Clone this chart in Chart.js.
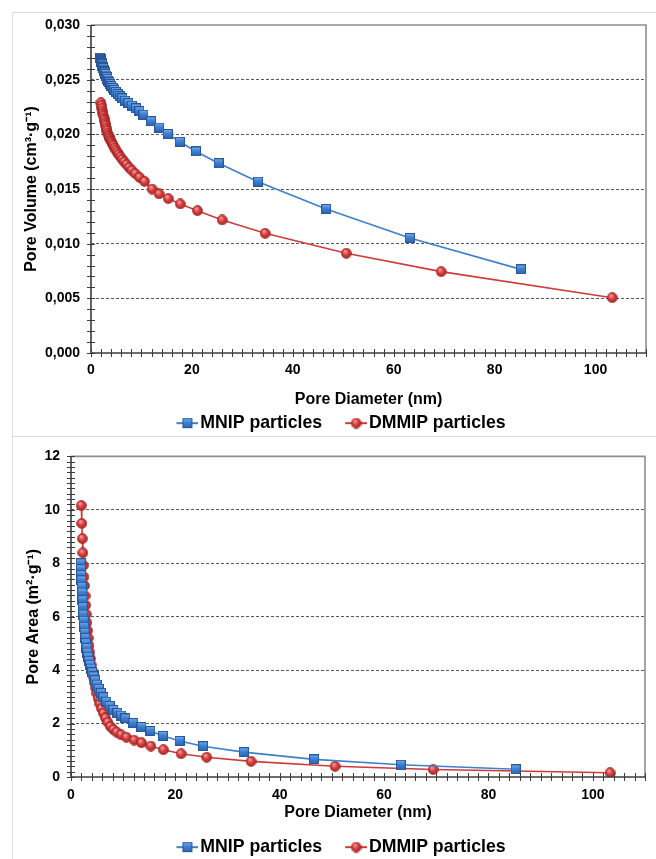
<!DOCTYPE html>
<html>
<head>
<meta charset="utf-8">
<script src="https://cdn.jsdelivr.net/npm/chart.js@4.4.1/dist/chart.umd.min.js"></script>
<style>
  html, body { margin: 0; padding: 0; background: #fff; }
  body { width: 656px; height: 859px; overflow: hidden; position: relative; }
  canvas { position: absolute; left: 0; }
  #top { top: 0; }
  #bottom { top: 437px; }
  .frame { position: absolute; border-color: #dcdcdc; border-style: solid; border-width: 0; }
</style>
</head>
<body>
<div class="frame" style="left:12px;top:12px;width:644px;height:847px;border-left-width:1px;border-top-width:1px;"></div>
<div class="frame" style="left:12px;top:436px;width:644px;height:0;border-top-width:1px;"></div>
<canvas id="top" width="663" height="442"></canvas>
<canvas id="bottom" width="663" height="429"></canvas>
<script>
// MNIP particles (blue squares)
var mnipDiameter = [1.85, 1.9, 1.95, 2.0, 2.06, 2.12, 2.19, 2.26, 2.34, 2.42, 2.51, 2.61, 2.72, 2.84, 2.97,
  3.11, 3.26, 3.43, 3.62, 3.83, 4.06, 4.32, 4.61, 4.94, 5.31, 5.73, 6.21, 6.76, 7.4, 8.1, 8.9, 9.6, 10.4,
  11.9, 13.5, 15.2, 17.6, 20.8, 25.3, 33.1, 46.6, 63.2, 85.2];
var mnipVolume = [0.02700, 0.02690, 0.02680, 0.02671, 0.02660, 0.02650, 0.02639, 0.02628, 0.02616, 0.02604,
  0.02592, 0.02579, 0.02566, 0.02552, 0.02538, 0.02523, 0.02508, 0.02492, 0.02476, 0.02459, 0.02442, 0.02424,
  0.02406, 0.02387, 0.02368, 0.02348, 0.02328, 0.02307, 0.02285, 0.02262, 0.02238, 0.02212, 0.02180, 0.02120,
  0.02062, 0.02003, 0.01932, 0.01843, 0.01736, 0.01567, 0.01318, 0.01052, 0.00765];
var mnipArea = [8.00, 7.78, 7.56, 7.36, 7.12, 6.90, 6.62, 6.36, 6.08, 5.85, 5.62, 5.40, 5.20, 5.01, 4.83,
  4.66, 4.50, 4.35, 4.20, 4.06, 3.92, 3.77, 3.62, 3.46, 3.30, 3.14, 2.98, 2.82, 2.66, 2.51, 2.40, 2.30, 2.19,
  2.02, 1.87, 1.72, 1.54, 1.35, 1.15, 0.93, 0.66, 0.46, 0.29];

// DMMIP particles (red circles)
var dmmipDiameter = [1.97, 2.07, 2.17, 2.27, 2.37, 2.47, 2.58, 2.69, 2.8, 2.92, 3.04, 3.17, 3.3, 3.44, 3.58,
  3.73, 3.89, 4.05, 4.25, 4.46, 4.7, 4.95, 5.22, 5.52, 5.85, 6.2, 6.6, 7.05, 7.55, 8.1, 8.75, 9.6, 10.6,
  12.1, 13.5, 15.3, 17.7, 21.1, 26.0, 34.5, 50.6, 69.4, 103.3];
var dmmipVolume = [0.02290, 0.02263, 0.02238, 0.02213, 0.02190, 0.02168, 0.02144, 0.02122, 0.02100, 0.02078,
  0.02056, 0.02033, 0.02011, 0.01992, 0.01977, 0.01962, 0.01946, 0.01931, 0.01913, 0.01895, 0.01875, 0.01856,
  0.01836, 0.01815, 0.01793, 0.01771, 0.01748, 0.01723, 0.01697, 0.01671, 0.01642, 0.01607, 0.01570, 0.01500,
  0.01455, 0.01412, 0.01363, 0.01302, 0.01217, 0.01095, 0.00912, 0.00744, 0.00506];
var dmmipArea = [10.16, 9.49, 8.92, 8.39, 7.92, 7.49, 7.16, 6.78, 6.43, 6.09, 5.78, 5.48, 5.20, 4.92, 4.67,
  4.43, 4.19, 3.98, 3.76, 3.54, 3.33, 3.13, 2.94, 2.74, 2.56, 2.39, 2.21, 2.05, 1.89, 1.78, 1.68, 1.58, 1.49,
  1.38, 1.28, 1.16, 1.02, 0.87, 0.74, 0.585, 0.40, 0.28, 0.16];

var seriesNames = ["MNIP particles", "DMMIP particles"];

Chart.defaults.font.family = "'Liberation Sans', Arial, Helvetica, sans-serif";
Chart.defaults.color = "#000";

// glossy markers
function squareMarker(size) {
  var c = document.createElement("canvas");
  c.width = size; c.height = size;
  var g = c.getContext("2d");
  var gr = g.createLinearGradient(0, 0, 0, size);
  gr.addColorStop(0, "#7fb2ec");
  gr.addColorStop(0.45, "#3d80d4");
  gr.addColorStop(1, "#2a63ad");
  g.fillStyle = gr;
  g.fillRect(0.5, 0.5, size - 1, size - 1);
  g.strokeStyle = "#28579a";
  g.lineWidth = 1;
  g.strokeRect(0.5, 0.5, size - 1, size - 1);
  return c;
}
function roundMarker(size) {
  var c = document.createElement("canvas");
  c.width = size; c.height = size;
  var g = c.getContext("2d");
  var r = size / 2;
  var gr = g.createRadialGradient(r * 0.75, r * 0.6, 0.5, r, r, r);
  gr.addColorStop(0, "#f59a9a");
  gr.addColorStop(0.5, "#d63c3c");
  gr.addColorStop(1, "#a52424");
  g.fillStyle = gr;
  g.beginPath();
  g.arc(r, r, r - 0.6, 0, Math.PI * 2);
  g.fill();
  g.strokeStyle = "#9b2222";
  g.lineWidth = 0.8;
  g.stroke();
  return c;
}
function legendMarker(marker, color) {
  var c = document.createElement("canvas");
  c.width = 48; c.height = 18;
  var g = c.getContext("2d");
  g.strokeStyle = color;
  g.lineWidth = 2;
  g.beginPath();
  g.moveTo(26, 9);
  g.lineTo(48, 9);
  g.stroke();
  g.drawImage(marker, 37 - marker.width / 2, 9 - marker.height / 2);
  return c;
}

var blueSquare = squareMarker(10);
var redDot = roundMarker(11);
var blueColor = "#3f7fcc";
var redColor = "#cf3b3b";
var legendIcons = [legendMarker(blueSquare, blueColor), legendMarker(redDot, redColor)];

function points(xs, ys) {
  return xs.map(function (x, i) { return {x: x, y: ys[i]}; });
}

// crossing tick marks, axis lines and the top/right frame
var frameTicks = {
  id: "frameTicks",
  afterDraw: function (chart, args, opts) {
    var ctx = chart.ctx, a = chart.chartArea;
    var x = chart.scales.x, y = chart.scales.y;
    ctx.save();
    ctx.strokeStyle = "#8e8e8e";
    ctx.lineWidth = 1.6;
    ctx.beginPath();
    ctx.moveTo(a.left, a.top);
    ctx.lineTo(a.right, a.top);
    ctx.lineTo(a.right, a.bottom);
    ctx.stroke();

    ctx.strokeStyle = "#3c3c3c";
    ctx.lineWidth = 1;
    ctx.beginPath();
    var nx = Math.round((x.max - x.min) / opts.xMinor);
    for (var i = 0; i <= nx; i++) {
      var px = Math.round(x.getPixelForValue(x.min + i * opts.xMinor)) + 0.5;
      ctx.moveTo(px, a.bottom - 4);
      ctx.lineTo(px, a.bottom + 4);
    }
    var ny = Math.round((y.max - y.min) / opts.yMinor);
    for (var j = 0; j <= ny; j++) {
      var py = Math.round(y.getPixelForValue(y.min + j * opts.yMinor)) + 0.5;
      ctx.moveTo(a.left - 4, py);
      ctx.lineTo(a.left + 4, py);
    }
    ctx.stroke();

    ctx.lineWidth = 1.6;
    ctx.beginPath();
    ctx.moveTo(a.left, a.top);
    ctx.lineTo(a.left, a.bottom);
    ctx.lineTo(a.right, a.bottom);
    ctx.stroke();
    ctx.restore();
  }
};

function makeChart(id, cfg) {
  var tickFont = {size: 14, weight: "bold"};
  var titleFont = {size: 16, weight: "bold", lineHeight: 1};
  return new Chart(id, {
    type: "line",
    data: {
      datasets: [{
        label: seriesNames[0],
        data: points(mnipDiameter, cfg.mnip),
        borderColor: blueColor,
        borderWidth: 1.6,
        pointStyle: blueSquare,
        pointRadius: 5,
        tension: 0,
        fill: false
      }, {
        label: seriesNames[1],
        data: points(dmmipDiameter, cfg.dmmip),
        borderColor: redColor,
        borderWidth: 1.6,
        pointStyle: redDot,
        pointRadius: 5,
        tension: 0,
        fill: false
      }]
    },
    options: {
      responsive: false,
      animation: false,
      layout: {padding: {top: cfg.top, left: 0, right: 0, bottom: 0}},
      plugins: {
        tooltip: {enabled: false},
        frameTicks: {xMinor: 2, yMinor: cfg.yMinor},
        legend: {
          position: "bottom",
          labels: {
            usePointStyle: true,
            pointStyleWidth: 34,
            padding: 4,
            color: "#000",
            font: {size: 17.7, weight: "bold"},
            generateLabels: function (chart) {
              return chart.data.datasets.map(function (ds, i) {
                return {text: ds.label, pointStyle: legendIcons[i], fillStyle: "rgba(0,0,0,0)",
                  strokeStyle: "rgba(0,0,0,0)", lineWidth: 0, fontColor: "#000", hidden: false, datasetIndex: i};
              });
            }
          }
        }
      },
      scales: {
        x: {
          type: "linear",
          min: 0,
          max: 110,
          ticks: {
            stepSize: 20,
            padding: cfg.xLabelPad,
            font: tickFont,
            color: "#000",
            maxRotation: 0,
            autoSkip: false,
            callback: function (v) { return v > 100 ? "" : v; }
          },
          grid: {drawOnChartArea: false, drawTicks: false},
          border: {display: false},
          title: {display: true, text: "Pore Diameter (nm)", color: "#000", font: titleFont,
            padding: {top: 0, bottom: cfg.xTitlePad}},
          afterFit: function (s) { s.height = 57.3; }
        },
        y: {
          min: 0,
          max: cfg.yMax,
          ticks: {
            stepSize: cfg.yStep,
            padding: 11,
            font: tickFont,
            color: "#000",
            callback: cfg.yFormat
          },
          grid: {
            drawTicks: false,
            lineWidth: 1,
            color: function (c) {
              return (c.index === 0 || c.index === cfg.yCount) ? "rgba(0,0,0,0)" : "#5a5a5a";
            }
          },
          border: {display: false, dash: [3, 2]},
          title: {display: true, text: cfg.yTitle, color: "#000", font: titleFont,
            padding: {top: cfg.yTitlePad, bottom: 0}},
          afterFit: function (s) { s.width = cfg.left; }
        },
        y2: {
          position: "right",
          grid: {display: false},
          ticks: {display: false},
          border: {display: false},
          afterFit: function (s) { s.width = cfg.rightGap; }
        }
      }
    },
    plugins: [frameTicks]
  });
}

makeChart("top", {
  mnip: mnipVolume,
  dmmip: dmmipVolume,
  top: 25,
  left: 91,
  rightGap: 17,
  yMax: 0.03,
  yStep: 0.005,
  yCount: 6,
  yMinor: 0.001,
  yTitle: "Pore Volume (cm³·g⁻¹)",
  yTitlePad: 24,
  xLabelPad: 8.6,
  xTitlePad: 2.3,
  yFormat: function (v) { return v.toFixed(3).replace(".", ","); }
});

makeChart("bottom", {
  mnip: mnipArea,
  dmmip: dmmipArea,
  top: 12,
  left: 71,
  rightGap: 18,
  yMax: 12,
  yStep: 2,
  yCount: 6,
  yMinor: 0.2,
  yTitle: "Pore Area (m²·g⁻¹)",
  yTitlePad: 26,
  xLabelPad: 9.6,
  xTitlePad: 13.3,
  yFormat: function (v) { return v; }
});
</script>
</body>
</html>
